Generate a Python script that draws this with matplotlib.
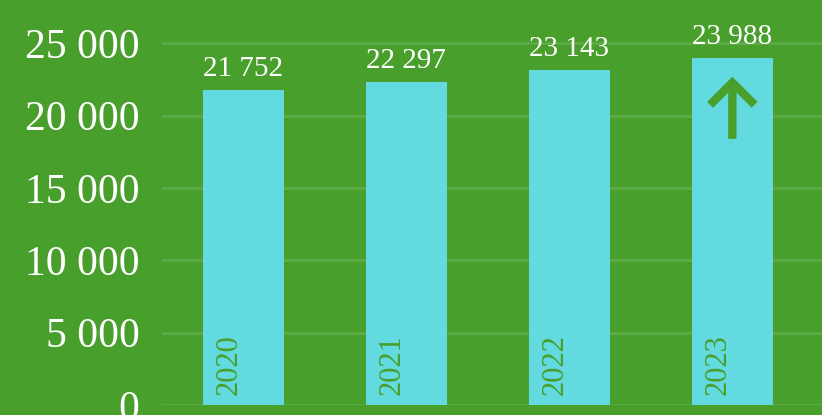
import matplotlib
matplotlib.use("Agg")
import matplotlib.pyplot as plt
from matplotlib.ticker import FuncFormatter

years = ["2020", "2021", "2022", "2023"]
values = [21752, 22297, 23143, 23988]
yticks = [0, 5000, 10000, 15000, 20000, 25000]

BG = "#499f2b"
BAR = "#62dadf"
GRID = "#5dab45"
TXT = "white"

plt.rcParams["font.family"] = ["Liberation Serif", "DejaVu Serif"]

fig = plt.figure(figsize=(8.22, 4.15), dpi=100, facecolor=BG)
ax = fig.add_axes([0.197, 0.024, 0.803, 0.976], facecolor=BG)

x = list(range(len(years)))
ax.bar(x, values, width=0.5, color=BAR, zorder=2)

ax.set_xlim(-0.5, 3.55)
ax.set_ylim(0, 28000)
ax.set_yticks(yticks)
ax.yaxis.set_major_formatter(FuncFormatter(lambda v, p: f"{int(v):,}".replace(",", " ")))
ax.tick_params(axis="y", length=0, pad=16, labelsize=30, labelcolor=TXT)
ax.set_xticks([])
ax.grid(axis="y", color=GRID, lw=2, zorder=1)
for s in ax.spines.values():
    s.set_visible(False)

for xi, v, yr in zip(x, values, years):
    ax.annotate(f"{v:,}".replace(",", " "), (xi, v), xytext=(0, 6),
                textcoords="offset points", ha="center", va="bottom",
                fontsize=21, color=TXT, zorder=3)
    ax.text(xi - 0.085, 700, yr, rotation=90, ha="center", va="bottom",
            fontsize=22, color=BG, zorder=3)

# upward arrow inside last bar
ax.annotate("", xy=(x[-1], 22700), xytext=(x[-1], 18400),
            arrowprops=dict(arrowstyle="->,head_length=0.8,head_width=0.8",
                            lw=6, color=BG, mutation_scale=20,
                            shrinkA=0, shrinkB=0,
                            capstyle="butt", joinstyle="miter"),
            zorder=4)

fig.savefig("out.png", dpi=100, facecolor=BG)
